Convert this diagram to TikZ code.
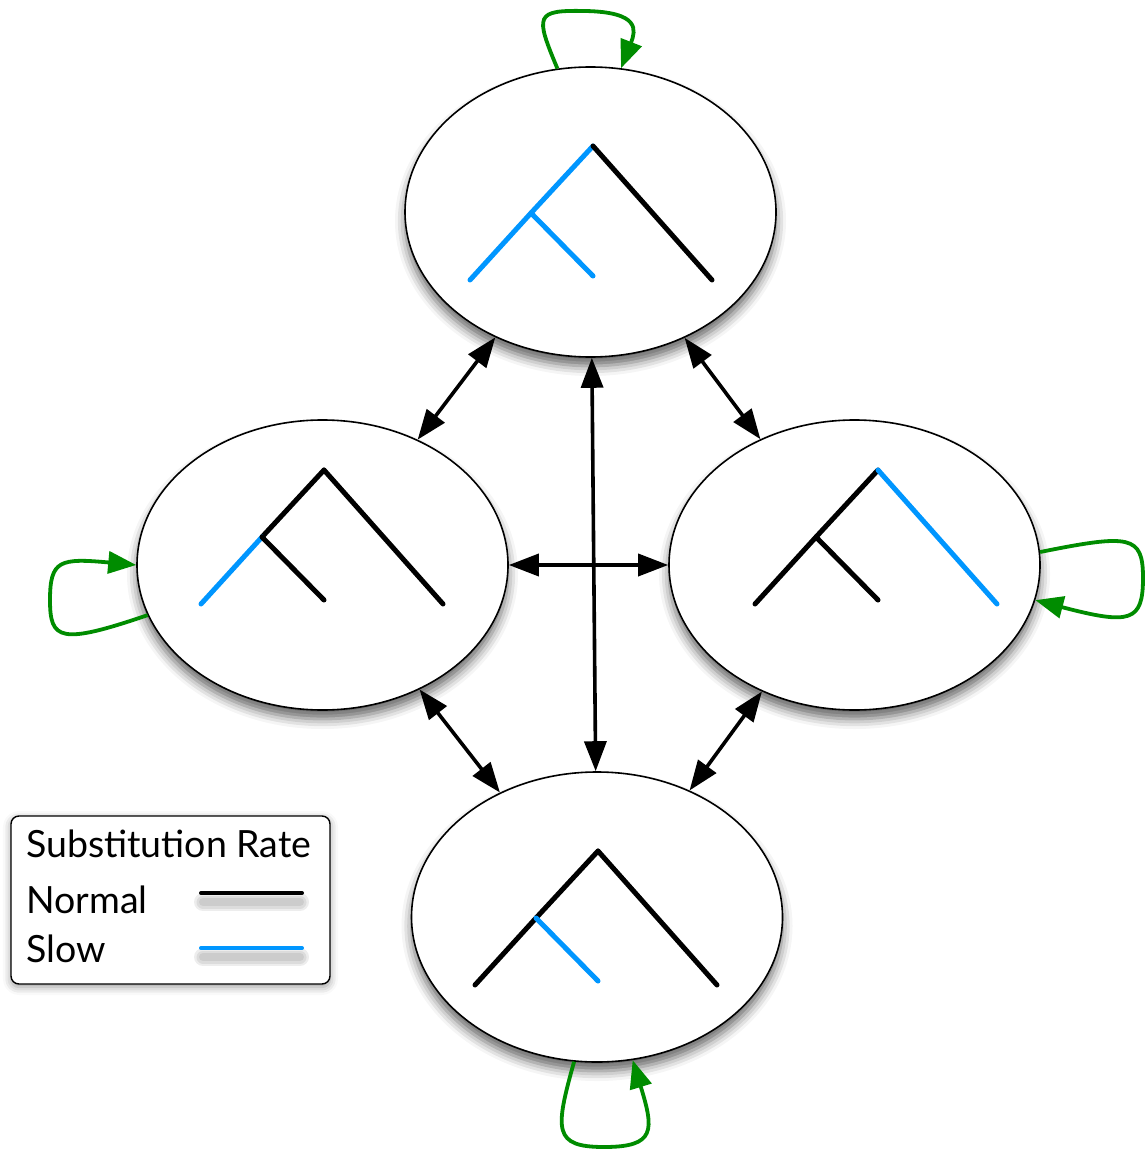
\documentclass[tikz,border=0pt]{standalone}
\usepackage{fontspec}
\setmainfont{Lato}
\usetikzlibrary{arrows.meta,shapes.geometric,shadows.blur,calc}

\definecolor{slowblue}{RGB}{0,150,255}
\definecolor{loopgreen}{RGB}{0,140,0}

\tikzset{
  state/.style={ellipse,draw=black,line width=1.6pt,fill=white,minimum width=371pt,minimum height=290pt,
    blur shadow={shadow xshift=0pt,shadow yshift=-9pt,shadow blur radius=10pt,shadow opacity=60}},
  normal/.style={draw=black,line width=5pt,line cap=round},
  slow/.style={draw=slowblue,line width=5pt,line cap=round},
  swap/.style={line width=3.6pt,{Triangle[length=30pt,width=22pt]}-{Triangle[length=30pt,width=22pt]}},
  selfloop/.style={draw=loopgreen,line width=3.8pt,-{Triangle[length=28pt,width=22pt]}},
  legendtext/.style={anchor=base west,inner sep=0pt,font=\fontsize{37.5}{44}\selectfont},
  sampleshadow/.style={black,opacity=0.07,line cap=round}
}

% tree: #1 apex, #2 apex-mid, #3 mid-left leaf, #4 mid-mid leaf, #5 apex-right leaf
\newcommand{\drawtree}[5]{%
  \path (#1) coordinate (apex) ++(-62,67) coordinate (mid);
  \draw[#2] (apex) -- (mid);
  \draw[#3] (mid) -- ++(-61,67);
  \draw[#4] (mid) -- ++(62,63);
  \draw[#5] (apex) -- ++(119,134);
}

\begin{document}
\begin{tikzpicture}[x=1pt,y=-1pt]
\useasboundingbox (0,0) rectangle (1146,1150);

%Shape: Ellipses
\node[state] (top) at (590.5,212) {};
\node[state] (left) at (322.5,565) {};
\node[state] (right) at (854.5,565) {};
\node[state] (bottom) at (597,917) {};

%Trees
\drawtree{593,146}{slow}{slow}{slow}{normal}
\drawtree{324,470}{normal}{slow}{normal}{normal}
\drawtree{878,470}{normal}{normal}{normal}{slow}
\drawtree{598,851}{normal}{normal}{slow}{normal}

%Straight Lines
\draw[swap] (top) -- (left);
\draw[swap] (top) -- (right);
\draw[swap] (top) -- (bottom);
\draw[swap] (left) -- (right);
\draw[swap] (left) -- (bottom);
\draw[swap] (right) -- (bottom);

%Self loops
\draw[selfloop] (top.103) .. controls (535,15) and (535,10) .. (585,11) .. controls (640,12) and (636,30) .. (top.78);
\draw[selfloop] (left.196) .. controls (60,645) and (50,640) .. (50,600) .. controls (50,560) and (60,558) .. (left.180);
\draw[selfloop] (right.4) .. controls (1130,534) and (1143,535) .. (1143,578) .. controls (1143,622) and (1130,625) .. (right.349);
\draw[selfloop] (bottom.261) .. controls (555,1130) and (553,1147) .. (604,1147) .. controls (656,1147) and (654,1130) .. (bottom.284);

%Legend
\node[draw=black,line width=1.4pt,rounded corners=8pt,fill=white,minimum width=319pt,minimum height=168pt,
  blur shadow={shadow xshift=0pt,shadow yshift=-3pt,shadow blur radius=8pt,shadow opacity=40}] (legend) at (170.5,900) {};
\node[legendtext] (title) at (26,857) {Substitution Rate};
\node[legendtext] (normaltext) at (26,913) {Normal};
\node[legendtext] (slowtext) at (26,962) {Slow};
\foreach \w in {18,13,8} {
  \draw[sampleshadow,line width=\w pt] (203,902) -- (300,902);
  \draw[sampleshadow,line width=\w pt] (203,957) -- (300,957);
}
\draw[normal,line width=4pt] (201,893) -- (302,893);
\draw[slow,line width=4pt] (201,948) -- (302,948);

\end{tikzpicture}
\end{document}
